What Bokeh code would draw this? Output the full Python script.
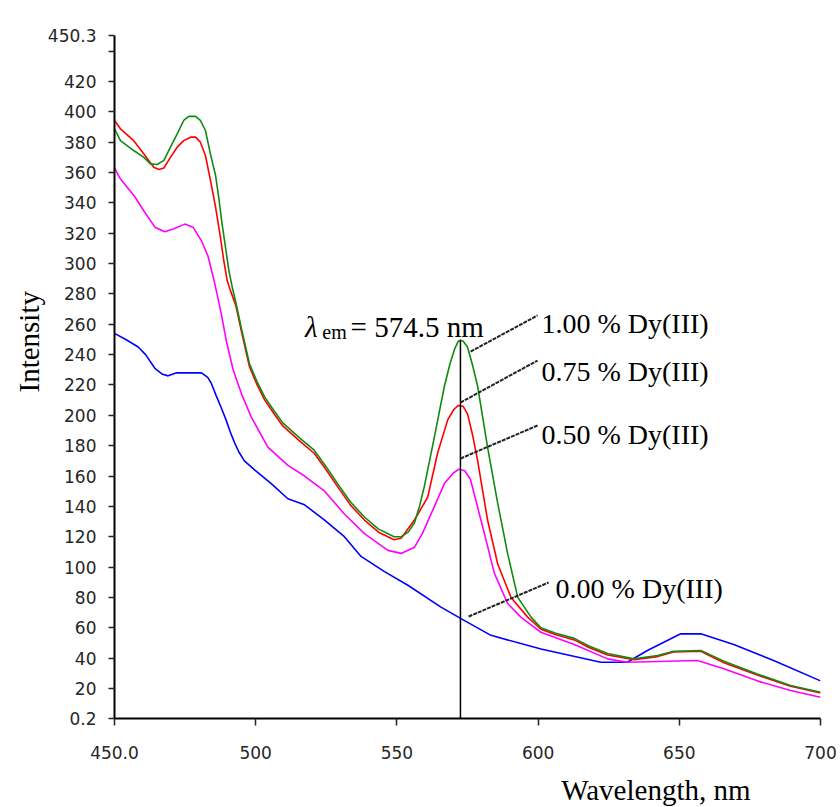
from bokeh.plotting import figure
from bokeh.models import Label, FixedTicker, Title
from bokeh.embed import file_html
from bokeh.resources import INLINE

# ---- data ----
wl_100 = [450, 452.1, 456.8, 460.4, 462.7, 465.1, 467.5, 469.8, 472.2, 474.5, 476.3, 478.7, 480.4, 482.2,
          484, 485.8, 486.9, 488.1, 489.3, 490.5, 491.7, 493, 495.1, 497.8, 500.5, 503.2, 506.5, 509.6,
          515, 520.7, 525, 529, 533.5, 538.5, 543.5, 549, 551.5, 554, 556.2, 558, 559.7, 563.3, 566.8,
          568.8, 570.5, 571.8, 573.4, 575, 576.8, 578.6, 582.1, 585.7, 589.2, 592.8, 597.5, 601, 606,
          612.8, 618, 624.6, 634, 642.3, 648, 657.6, 665.8, 677.6, 689.4, 700]
in_100 = [388.8, 381, 374.5, 370, 365.7, 365.3, 368, 376.7, 385.5, 394.3, 397, 397, 394.3, 387.7,
          372, 358, 343.7, 326, 310.8, 295.4, 284.4, 274, 256, 234, 222, 212, 203, 195,
          186, 177, 166, 155, 143, 133, 125, 120, 120, 123, 129, 140, 153, 186, 219,
          234, 244, 249, 249, 245, 233, 219, 179, 142, 109, 80, 67, 60, 56.5,
          53, 48, 43, 39.5, 41.7, 44.5, 45, 38, 29.6, 22, 17.5]

wl_075 = [450, 452.1, 456.8, 460.4, 463.9, 465.7, 467.5, 469.8, 472.2, 474.5, 476.9, 478.7, 480.4, 482.2,
          484, 485.8, 487.5, 488.7, 489.9, 491.1, 493, 495.1, 497.8, 500.5, 503.2, 506.5, 509.6,
          515, 520.7, 525, 529, 533.5, 538.5, 543.5, 549, 551.5, 556.2, 560.9, 564.4, 568, 570.2,
          571.8, 573.4, 575, 576.8, 578.6, 582.1, 585.7, 590.4, 596.3, 601, 606, 612.8, 618, 624.6,
          634, 642.3, 648, 657.6, 665.8, 677.6, 689.4, 700]
in_075 = [394.3, 388.8, 381, 372.2, 363.5, 362, 363, 370, 376.7, 381, 383.3, 383.3, 380, 371.2,
          354.7, 337.1, 317.4, 302, 288.8, 282, 272, 254, 232, 220, 210, 201, 193,
          184, 175, 164, 153, 141, 131, 123, 118, 119, 131, 146, 175, 197, 204,
          206.5, 206, 201, 187, 170, 131, 102, 80, 67, 59, 55.5, 52, 47, 42,
          39, 41, 44, 44.5, 37, 28.8, 21.5, 17]

wl_050 = [450, 452, 457.2, 461, 464.3, 467.8, 471, 474.9, 477.8, 480.8, 483.1, 485.5, 487.8, 489.6,
          492, 495, 498.4, 504.3, 511.4, 517.3, 524.4, 531.4, 538.5, 546.8, 551.5, 556.2, 559, 562.1,
          566.8, 570, 572, 574, 576, 577.4, 581, 584.5, 589.2, 593.9, 601, 612.8, 624.6, 631.6, 642.3,
          656.4, 665.8, 677.6, 689.4, 700]
in_050 = [363, 356, 344, 333, 324, 321, 323, 326, 324, 315, 305, 287, 267, 249,
          230, 214, 199, 179, 167, 160, 150, 135, 122, 111, 109, 113, 122, 135,
          155, 162, 164.5, 163.5, 158, 148, 122, 96, 76, 67, 57, 49, 39.5, 37.3, 37.8,
          38.4, 33, 25, 18.6, 14.2]

wl_000 = [450, 454, 458.4, 461, 464.3, 467, 469, 472, 474.9, 480.8, 483, 484.3, 486, 487.8, 489.5,
          491, 492.5, 494, 496, 499.6, 505.5, 511.4, 517.3, 524.4, 531.4, 537.3, 545.6, 553.9, 565.6,
          572.7, 583.3, 601, 622.2, 631.6, 638.7, 650.5, 657.6, 669.3, 683.4, 700]
in_000 = [254, 250, 245, 240, 231, 227, 226, 228, 228, 228, 225, 221, 213, 205, 197,
          189, 182, 176, 170, 164, 155, 145, 141, 131, 120, 107, 97, 88, 73.6,
          66, 55, 46, 37.3, 37.3, 45, 56, 56, 49, 38.4, 25]

series_names = ["0.00 % Dy(III)", "0.50 % Dy(III)", "0.75 % Dy(III)", "1.00 % Dy(III)"]
series_colors = ["#0000ff", "#ff00ff", "#ff0000", "#118a11"]

x_ticks = [450, 500, 550, 600, 650, 700]
x_tick_labels = ["450.0", "500", "550", "600", "650", "700"]
y_ticks = [0.2] + list(range(20, 441, 20)) + [450.3]
y_tick_labels = ["0.2"] + [str(v) for v in range(20, 421, 20)] + ["", "450.3"]

em_wl = [572.5]          # vertical marker at the emission peak
em_top = [250]
# leader lines from curves to labels
lead_x0 = [576.1, 572.5, 572.5, 575.4]
lead_y0 = [242.0, 208.4, 171.5, 67.4]
lead_x1 = [599.8, 599.8, 599.8, 603.7]
lead_y1 = [265.8, 236.1, 193.3, 89.8]
lab_text = ["1.00 % Dy(III)", "0.75 % Dy(III)", "0.50 % Dy(III)", "0.00 % Dy(III)"]
lab_x = [601.2, 601.2, 601.2, 606.2]
lab_y = [260.5, 228.9, 187.3, 85.9]

SERIF = "Liberation Serif"

p = figure(width=840, height=807, output_backend="svg", toolbar_location=None,
           x_range=(450, 700), y_range=(0.2, 450.3),
           min_border_left=114, min_border_right=20, min_border_top=35, min_border_bottom=89)
p.xgrid.visible = False
p.ygrid.visible = False
p.outline_line_color = None
p.background_fill_color = "white"
p.border_fill_color = "white"

for ax in (p.xaxis[0], p.yaxis[0]):
    ax.axis_line_color = "black"
    ax.axis_line_width = 2
    ax.major_tick_line_color = "#222222"
    ax.major_tick_line_width = 1.5
    ax.major_tick_out = 6
    ax.major_tick_in = 0
    ax.minor_tick_line_color = None
    ax.major_label_text_font = "DejaVu Sans"
    ax.major_label_text_font_size = "17px"
    ax.major_label_text_color = "#262626"

p.xaxis.ticker = FixedTicker(ticks=x_ticks)
p.xaxis.major_label_overrides = {t: l for t, l in zip(x_ticks, x_tick_labels)}
p.xaxis.major_tick_out = 7
p.xaxis.major_label_standoff = 20
# invisible spacer label that pushes the axis title a little lower
p.xaxis.axis_label = " "
p.xaxis.axis_label_text_font_size = "1px"
p.xaxis.axis_label_standoff = 6
p.yaxis.ticker = FixedTicker(ticks=y_ticks)
p.yaxis.major_label_overrides = {t: l for t, l in zip(y_ticks, y_tick_labels)}
p.yaxis.major_label_standoff = 12

for wl, iv, col in zip([wl_000, wl_050, wl_075, wl_100], [in_000, in_050, in_075, in_100], series_colors):
    p.line(wl, iv, line_color=col, line_width=1.6)

p.segment(x0=em_wl, y0=[0.2], x1=em_wl, y1=em_top, line_color="black", line_width=1.5)
p.segment(x0=lead_x0, y0=lead_y0, x1=lead_x1, y1=lead_y1, line_color="#222222",
          line_width=2, line_dash="4 1")

for t, x, y in zip(lab_text, lab_x, lab_y):
    p.add_layout(Label(x=x, y=y, text=t, text_font=SERIF, text_font_size="28px",
                       text_baseline="alphabetic", text_color="black"))

# lambda_em = 574.5 nm
p.add_layout(Label(x=517.5, y=257.9, text="λ", text_font=SERIF, text_font_size="29px",
                   text_font_style="italic", text_baseline="alphabetic", text_color="black"))
p.add_layout(Label(x=523.6, y=255.0, text="em", text_font=SERIF, text_font_size="20px",
                   text_baseline="alphabetic", text_color="black"))
p.add_layout(Label(x=533.6, y=257.9, text="= 574.5 nm", text_font=SERIF, text_font_size="29px",
                   text_baseline="alphabetic", text_color="black"))

# axis titles
p.add_layout(Title(text="Wavelength, nm", text_font=SERIF, text_font_size="29px",
                   text_font_style="normal", text_color="black", align="right", offset=70,
                   standoff=0, vertical_align="bottom"), "below")
p.add_layout(Title(text="Intensity", text_font=SERIF, text_font_size="29px",
                   text_font_style="normal", text_color="black", align="left", offset=326,
                   standoff=0), "left")

open("out.html", "w").write(file_html(p, INLINE))
